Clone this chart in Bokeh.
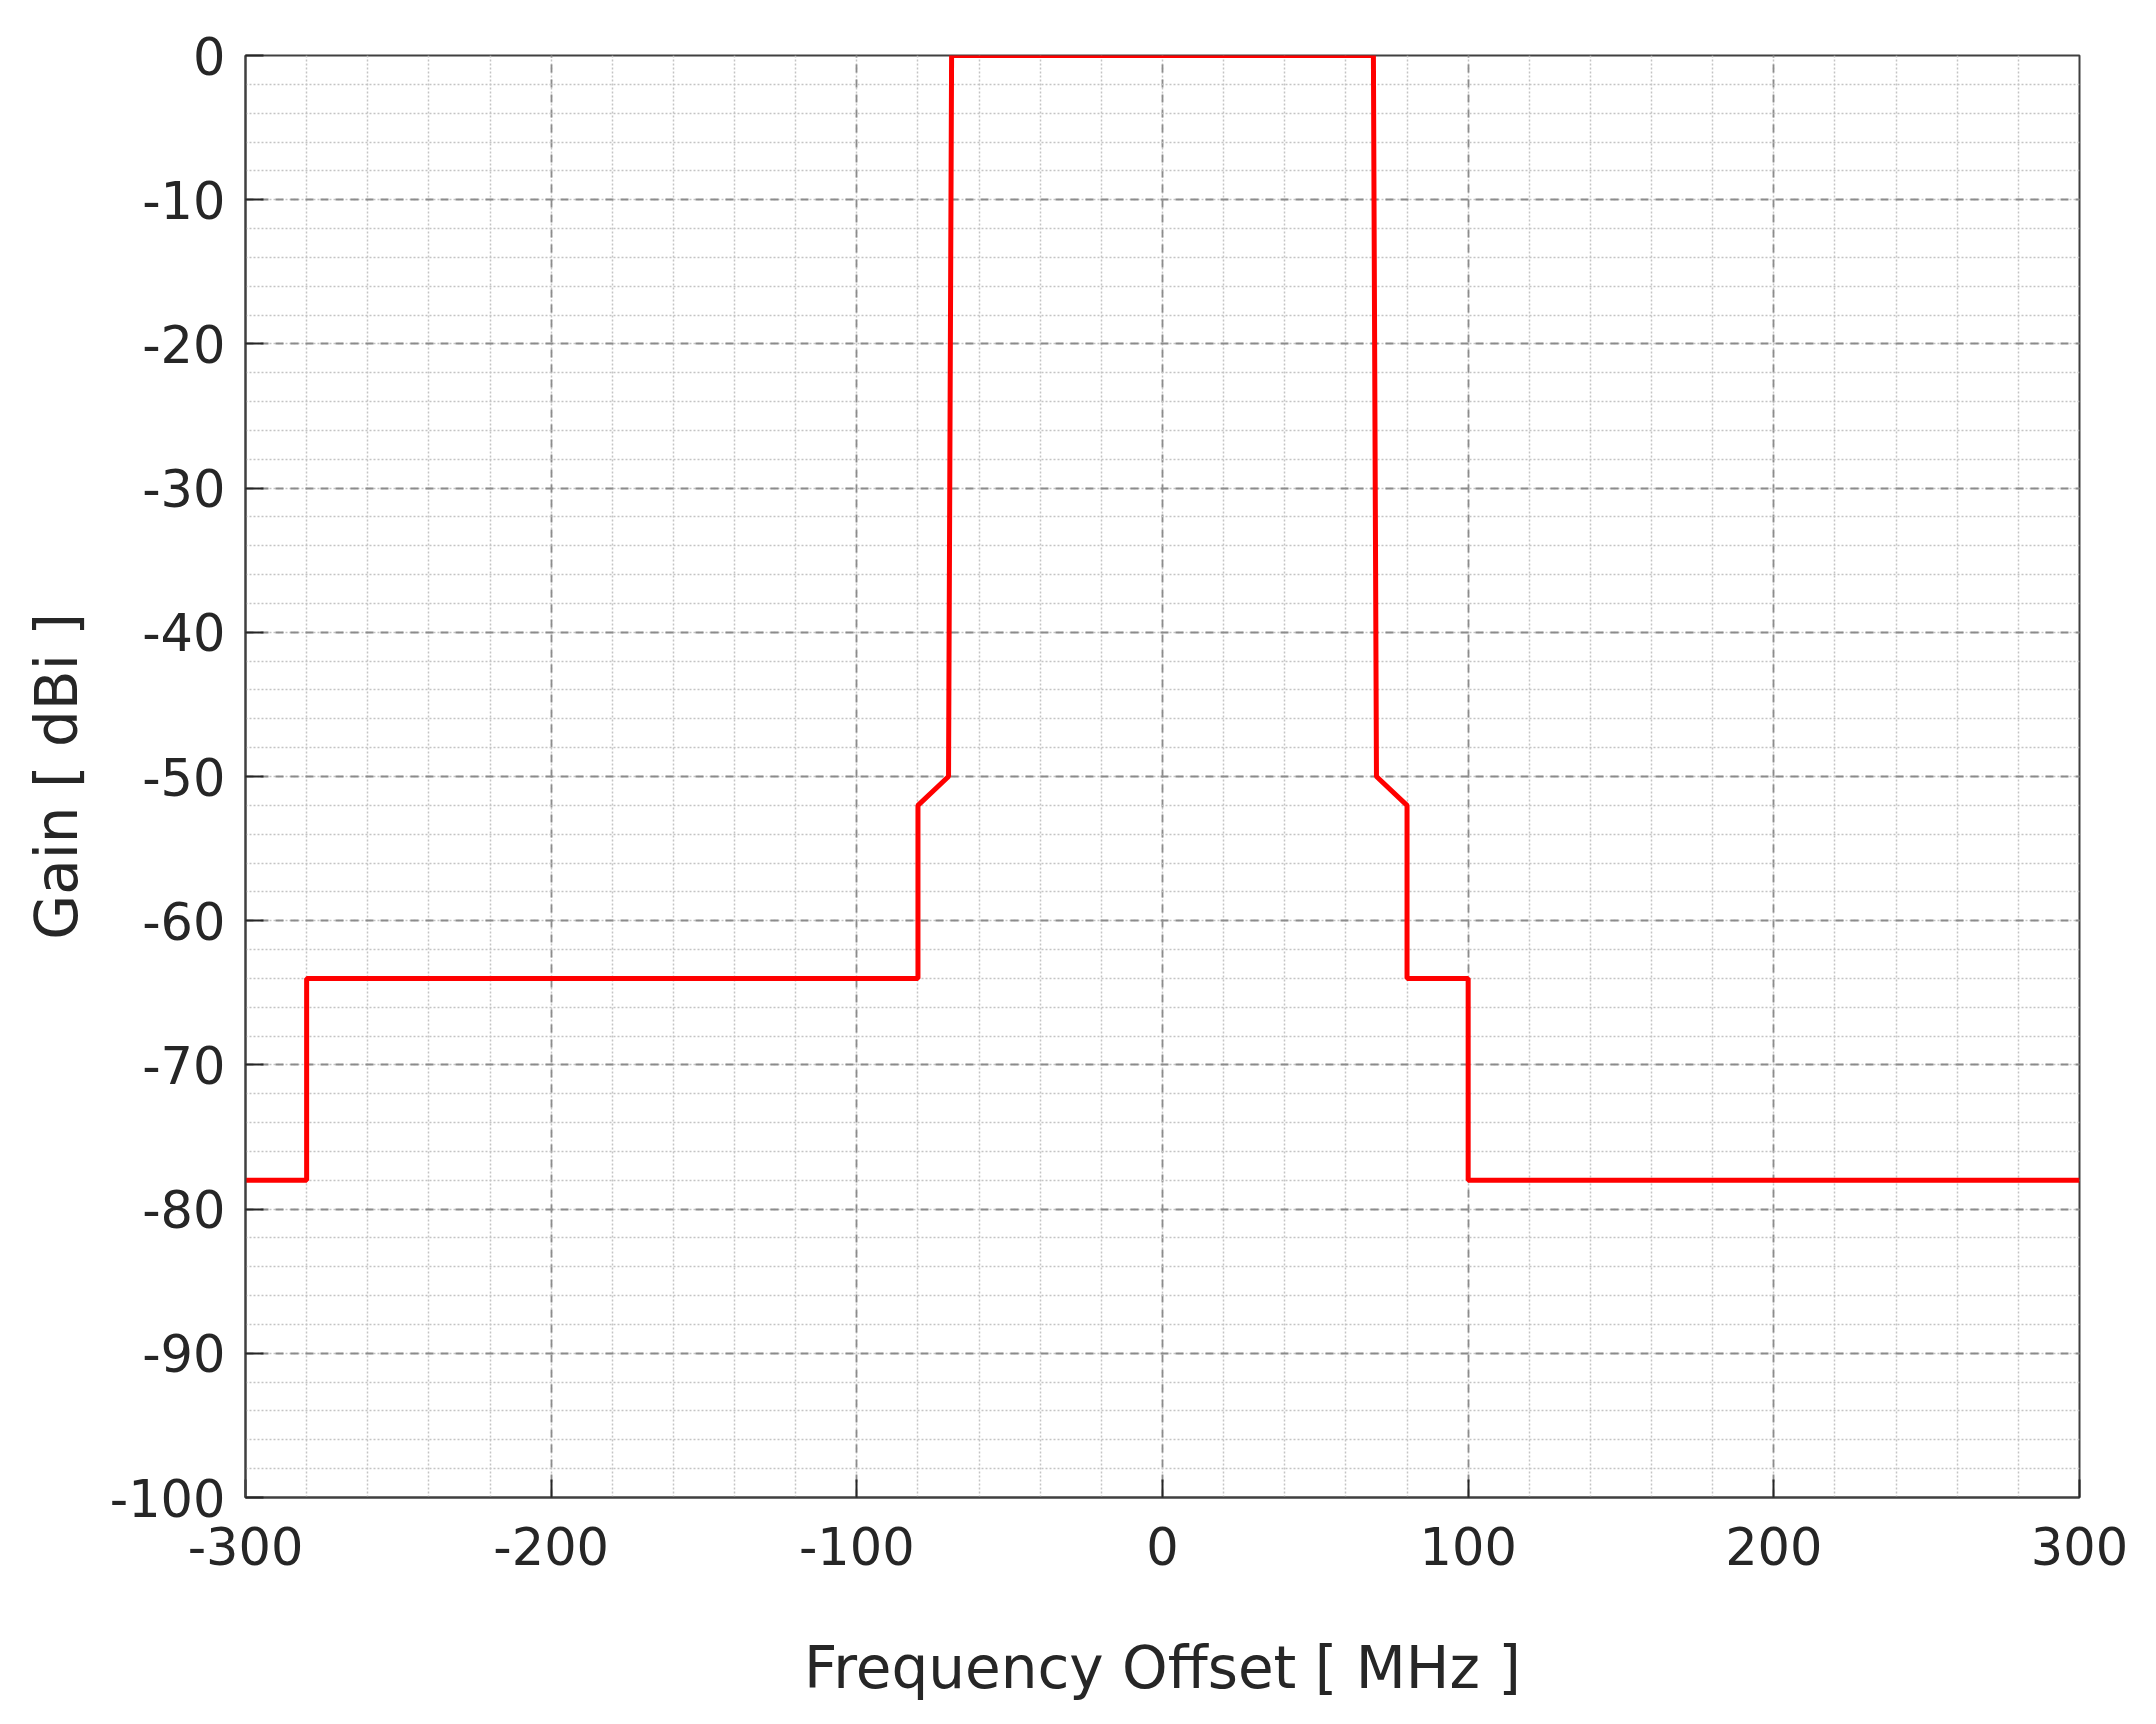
from bokeh.plotting import figure
from bokeh.models import SingleIntervalTicker, Range1d, CustomJSTickFormatter
from bokeh.embed import file_html
from bokeh.resources import INLINE

# Data
freq_mhz = [-300, -280, -280, -80, -80, -70, -69, 69, 70, 80, 80, 100, 100, 300]
gain_dbi = [-78, -78, -64, -64, -52, -50, 0, 0, -50, -52, -64, -64, -78, -78]

x_label = "Frequency Offset [ MHz ]"
y_label = "Gain [ dBi ]"

FONT = "DejaVu Sans"
TXT = "#262626"

p = figure(width=2140, height=1708, output_backend="svg", toolbar_location=None,
           x_range=Range1d(-300, 300), y_range=Range1d(-100, 0),
           min_border_left=245, min_border_top=55, min_border_right=61, min_border_bottom=211)

p.line(freq_mhz, gain_dbi, line_color="#ff0000", line_width=5)

p.xaxis.ticker = SingleIntervalTicker(interval=100, num_minor_ticks=5)
p.yaxis.ticker = SingleIntervalTicker(interval=10, num_minor_ticks=5)

fmt_code = "return String(Math.round(tick));"
for ax in (p.xaxis[0], p.yaxis[0]):
    ax.formatter = CustomJSTickFormatter(code=fmt_code)
    ax.axis_line_color = "#404040"
    ax.axis_line_width = 2
    ax.major_tick_in = 18
    ax.major_tick_out = 0
    ax.major_tick_line_color = "#262626"
    ax.major_tick_line_width = 2
    ax.minor_tick_in = 0
    ax.minor_tick_out = 0
    ax.major_label_text_font = FONT
    ax.major_label_text_font_size = "51px"
    ax.major_label_text_color = TXT
    ax.axis_label_text_font = FONT
    ax.axis_label_text_font_size = "58px"
    ax.axis_label_text_font_style = "normal"
    ax.axis_label_text_color = TXT

p.xaxis.axis_label = x_label
p.yaxis.axis_label = y_label
p.xaxis.major_label_standoff = 29
p.yaxis.major_label_standoff = 20
p.xaxis.axis_label_standoff = 66
p.yaxis.axis_label_standoff = 16

for g in (p.xgrid[0], p.ygrid[0]):
    g.grid_line_color = "#8c8c8c"
    g.grid_line_width = 1.8
    g.grid_line_dash = "8 7"
    g.minor_grid_line_color = "#c4c4c4"
    g.minor_grid_line_width = 1.5
    g.minor_grid_line_dash = "2 2"

p.outline_line_color = "#404040"
p.outline_line_width = 2
p.outline_line_alpha = 1.0
p.background_fill_color = "white"
p.border_fill_color = "white"

open("out.html", "w").write(file_html(p, INLINE))
